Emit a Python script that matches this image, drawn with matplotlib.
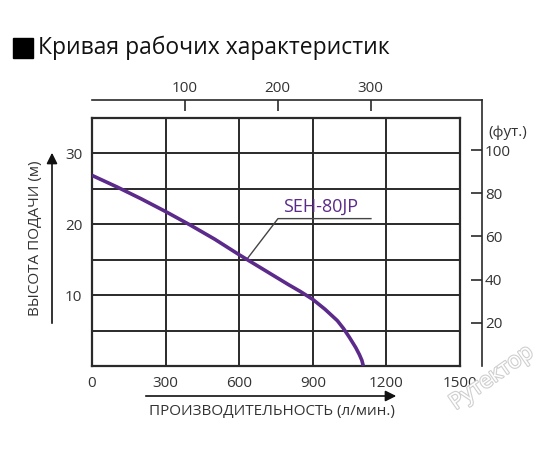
import numpy as np
import matplotlib
matplotlib.use("Agg")
import matplotlib.pyplot as plt
import matplotlib.patheffects as pe
from matplotlib.patches import Rectangle

plt.rcParams['font.family'] = ['Open Sans', 'DejaVu Sans']

# curve: flow (L/min) vs head (m)
flow = [0, 100, 200, 300, 400, 500, 600, 700, 800, 850, 900, 950, 1000, 1025, 1050, 1075, 1090, 1100, 1106]
head = [26.9, 25.3, 23.6, 21.8, 19.9, 17.9, 15.7, 13.6, 11.5, 10.5, 9.4, 8.0, 6.4, 5.3, 4.0, 2.6, 1.6, 0.8, 0.0]
model = "SEH-80JP"

x_ticks = [0, 300, 600, 900, 1200, 1500]
y_ticks = [10, 20, 30]
gal_ticks = [100, 200, 300]
ft_ticks = [20, 40, 60, 80, 100]

W, H = 550, 450
fig = plt.figure(figsize=(5.5, 4.5), dpi=100)

def box(l, t, r, b):
    return [l / W, 1 - b / H, (r - l) / W, (b - t) / H]

txt = '#333333'
grid_c = '#2a2a2a'

# secondary scales (gal/min on top, feet on right)
ax2 = fig.add_axes(box(92, 100, 482, 366))
ax2.set_xlim(0, 1500 * 390 / 368 / 3.785)
ax2.set_ylim(0, 35 * 266 / 248 / 0.3048)
ax2.patch.set_visible(False)
for s in ['left', 'bottom']:
    ax2.spines[s].set_visible(False)
for s in ['top', 'right']:
    ax2.spines[s].set_linewidth(1.2)
    ax2.spines[s].set_color(grid_c)
ax2.xaxis.tick_top()
ax2.yaxis.tick_right()
ax2.set_xticks(gal_ticks)
ax2.set_yticks(ft_ticks)
ax2.tick_params(direction='in', length=8, width=1.2, color=grid_c,
                labelsize=11, labelcolor=txt, pad=3)
ax2.tick_params(axis='y', pad=2)

# main chart
ax = fig.add_axes(box(92, 118, 460, 366))
ax.set_xlim(0, 1500)
ax.set_ylim(0, 35)
ax.patch.set_visible(False)
ax.set_xticks(x_ticks)
ax.set_yticks(np.arange(0, 36, 5))
ax.set_yticklabels(['' if v not in y_ticks else str(v) for v in range(0, 36, 5)])
ax.grid(True, color=grid_c, lw=1.4)
ax.tick_params(length=0, labelsize=11, labelcolor=txt, pad=7)
for s in ax.spines.values():
    s.set_linewidth(1.6)
    s.set_color(grid_c)

ax.plot(flow, head, color='#5b2a8a', lw=2.6, solid_joinstyle='round',
        solid_capstyle='butt', zorder=5)

# model label with leader
ax.text(778, 22.4, model, color='#5b2a8a', fontsize=13, va='center', ha='left')
ax.plot([632, 758, 1137], [15.1, 20.8, 20.8], color='#444444', lw=1.0, zorder=4)

# title
fig.patches.append(Rectangle((13 / W, 1 - 58 / H), 20 / W, 20 / H,
                             transform=fig.transFigure, color='black'))
fig.text(38 / W, 1 - 48 / H, "Кривая рабочих характеристик", fontsize=16.5,
         color='#111111', va='center', ha='left')

# axis labels with arrows
fig.text(36 / W, 1 - 238 / H, "ВЫСОТА ПОДАЧИ (м)", rotation=90, fontsize=11,
         color=txt, va='center', ha='center')
ax.annotate('', xy=(52 / W, 1 - 150 / H), xytext=(52 / W, 1 - 326 / H),
            xycoords='figure fraction', textcoords='figure fraction',
            arrowprops=dict(arrowstyle='-|>', color='#111111', lw=1.2, mutation_scale=16))
fig.text(272 / W, 1 - 412 / H, "ПРОИЗВОДИТЕЛЬНОСТЬ (л/мин.)", fontsize=11,
         color=txt, va='center', ha='center')
ax.annotate('', xy=(399 / W, 1 - 396 / H), xytext=(143 / W, 1 - 396 / H),
            xycoords='figure fraction', textcoords='figure fraction',
            arrowprops=dict(arrowstyle='-|>', color='#111111', lw=1.2, mutation_scale=16))

fig.text(488 / W, 1 - 133 / H, "(фут.)", fontsize=11, color=txt, va='center', ha='left')

# watermark
fig.text(492 / W, 1 - 378 / H, "Рутектор", rotation=35, fontsize=16, color='white',
         va='center', ha='center',
         path_effects=[pe.withStroke(linewidth=1.6, foreground='#cfcfcf')])

fig.savefig('out.png', dpi=100)
